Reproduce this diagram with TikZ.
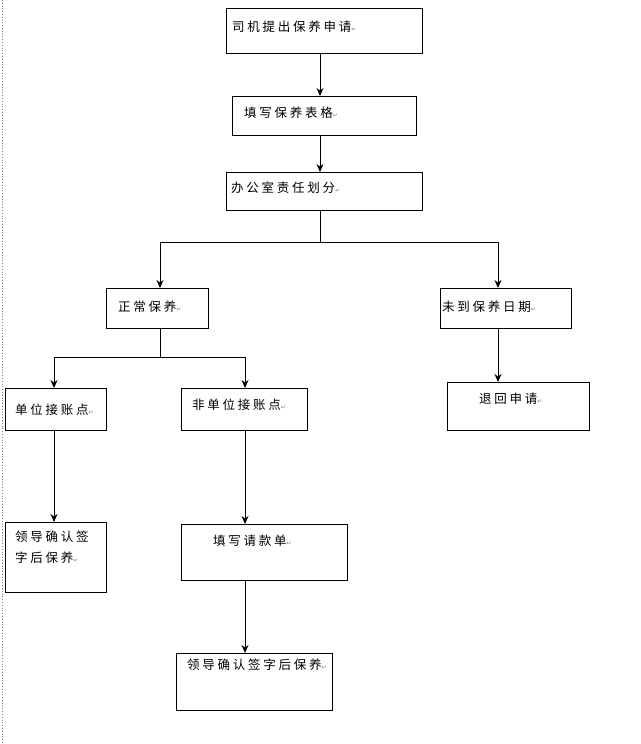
\documentclass[tikz,border=0pt]{standalone}
\usepackage{fontspec}
\newfontfamily\cjk[LetterSpace=22]{Noto Sans CJK SC}
\newfontfamily\dv{DejaVu Sans}
\usetikzlibrary{arrows.meta}
\newcommand{\pmark}{{\dv\fontsize{6}{6}\selectfont\color{gray}↵}}
\begin{document}
\begin{tikzpicture}[x=1pt,y=-1pt,
  box/.style={draw,line width=1pt,anchor=north west,inner sep=0pt},
  txt/.style={anchor=west,inner sep=0pt,font=\cjk\fontsize{12.5}{21}\selectfont,align=left},
  arr/.style={line width=1pt,-{Stealth[length=8pt,width=7pt]}},
  ln/.style={line width=1pt}]
\useasboundingbox (0,0) rectangle (640,744);
\fill[white] (0,0) rectangle (640,744);
\draw[gray,dotted,line width=0.8pt] (2,0) -- (2,744);
% boxes
\node[box,minimum width=196pt,minimum height=45pt] (b1) at (226,8) {};
\node[box,minimum width=184pt,minimum height=39pt] (b2) at (232,96) {};
\node[box,minimum width=196pt,minimum height=38pt] (b3) at (226,172) {};
\node[box,minimum width=102pt,minimum height=40pt] (b4) at (106,288) {};
\node[box,minimum width=131pt,minimum height=40pt] (b5) at (440,288) {};
\node[box,minimum width=101pt,minimum height=42pt] (b6) at (5,388) {};
\node[box,minimum width=126pt,minimum height=42pt] (b7) at (181,388) {};
\node[box,minimum width=142pt,minimum height=48pt] (b8) at (447,382) {};
\node[box,minimum width=101pt,minimum height=70pt] (b9) at (5,522) {};
\node[box,minimum width=166pt,minimum height=56pt] (b10) at (181,524) {};
\node[box,minimum width=156pt,minimum height=57pt] (b11) at (176,653) {};
% texts
\node[txt] (t1) at ([xshift=6pt,yshift=-19pt]b1.north west) {司机提出保养申请\pmark};
\node[txt] (t2) at ([xshift=12pt,yshift=-17pt]b2.north west) {填写保养表格\pmark};
\node[txt] (t3) at ([xshift=5pt,yshift=-16pt]b3.north west) {办公室责任划分\pmark};
\node[txt] (t4) at ([xshift=12pt,yshift=-19pt]b4.north west) {正常保养\pmark};
\node[txt] (t5) at ([xshift=2pt,yshift=-19pt]b5.north west) {未到保养日期\pmark};
\node[txt] (t6) at ([xshift=10pt,yshift=-22pt]b6.north west) {单位接账点\pmark};
\node[txt] (t7) at ([xshift=11pt,yshift=-17pt]b7.north west) {非单位接账点\pmark};
\node[txt] (t8) at ([xshift=32pt,yshift=-17pt]b8.north west) {退回申请\pmark};
\node[txt,anchor=north west] (t9) at ([xshift=10pt,yshift=-9pt]b9.north west) {领导确认签\\字后保养\pmark};
\node[txt] (t10) at ([xshift=32pt,yshift=-17pt]b10.north west) {填写请款单\pmark};
\node[txt] (t11) at ([xshift=11pt,yshift=-12pt]b11.north west) {领导确认签字后保养\pmark};
% connectors
\coordinate (j1) at (320,242);
\coordinate (j2) at (160,357);
\draw[arr] (b1.south -| j1) -- (b2.north -| j1);
\draw[arr] (b2.south -| j1) -- (b3.north -| j1);
\draw[ln] (b3.south -| j1) -- (j1);
\draw[arr] (j1) -| (b4.north -| j2);
\draw[arr] (j1) -| (498,288);
\draw[ln] (b4.south -| j2) -- (j2);
\draw[arr] (j2) -| (54,388);
\draw[arr] (j2) -| (245,388);
\draw[arr] (498,328) -- (498,382);
\draw[arr] (54,430) -- (54,522);
\draw[arr] (245,430) -- (245,524);
\draw[arr] (245,580) -- (245,653);
\end{tikzpicture}
\end{document}
